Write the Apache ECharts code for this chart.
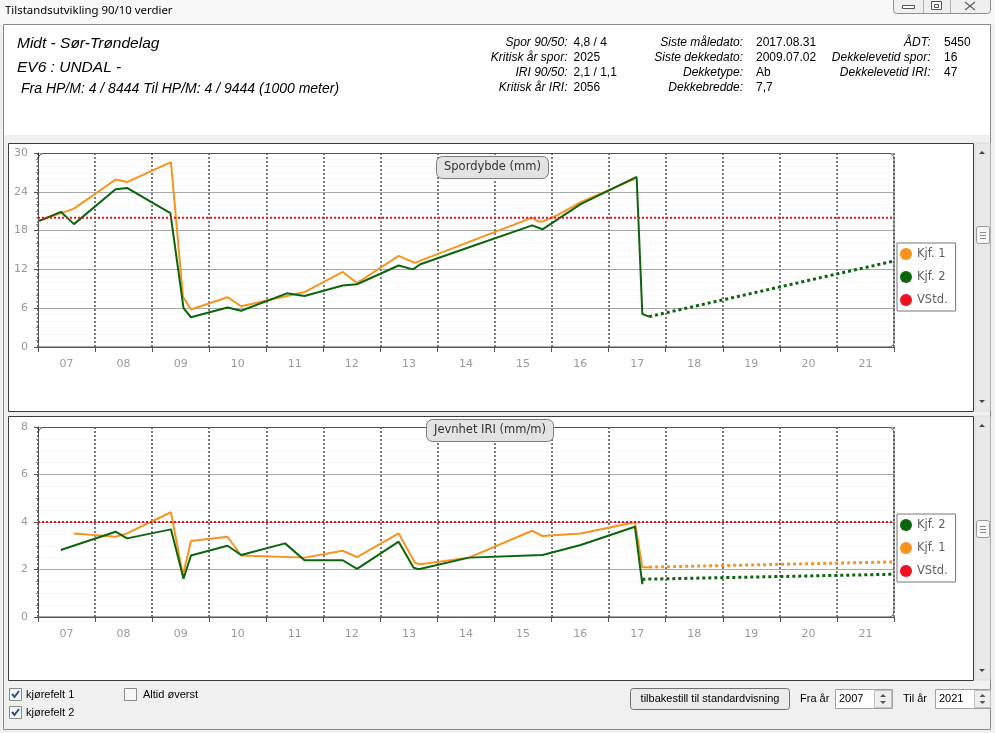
<!DOCTYPE html>
<html><head><meta charset="utf-8">
<script src="https://cdn.jsdelivr.net/npm/echarts@6/dist/echarts.min.js"></script>
<style>html,body{margin:0;padding:0;background:#f0f0f0;overflow:hidden}#c{width:995px;height:733px}</style>
</head><body><div id="c"></div>
<script>
// ---------- data ----------
const yearLabels = ['07','08','09','10','11','12','13','14','15','16','17','18','19','20','21'];
const legendTop = ['Kjf. 1','Kjf. 2','VStd.'];
const legendBottom = ['Kjf. 2','Kjf. 1','VStd.'];

// Spordybde (mm): [år, verdi]
const sporKjf1 = [[2007.02,19.5],[2007.63,21.4],[2008.36,25.9],[2008.56,25.5],[2009.33,28.6],[2009.54,7.8],[2009.68,5.8],[2010.32,7.7],[2010.56,6.3],[2011.36,7.9],[2011.67,8.5],[2012.34,11.6],[2012.59,9.9],[2013.32,14.1],[2013.60,13.0],[2015.66,20.0],[2015.76,19.4],[2015.84,19.4],[2016.10,20.4],[2016.54,22.5],[2017.46,26.0]];
const sporKjf2 = [[2007.02,19.5],[2007.40,20.9],[2007.63,19.0],[2008.36,24.4],[2008.56,24.6],[2009.32,20.7],[2009.55,6.0],[2009.68,4.6],[2010.32,6.1],[2010.56,5.6],[2011.36,8.3],[2011.67,7.9],[2012.34,9.5],[2012.59,9.7],[2013.32,12.6],[2013.57,12.0],[2013.70,12.8],[2014.58,15.5],[2015.66,18.8],[2015.84,18.2],[2016.51,22.1],[2017.49,26.3],[2017.59,5.1],[2017.71,4.7]];
const sporKjf2Prog = [[2017.71,4.7],[2022,13.3]];
const sporVStd = [[2007,20],[2022,20]];

// Jevnhet IRI (mm/m)
const iriKjf2 = [[2007.40,2.82],[2008.36,3.59],[2008.56,3.31],[2009.33,3.69],[2009.55,1.61],[2009.68,2.59],[2010.32,3.0],[2010.56,2.61],[2011.33,3.1],[2011.67,2.39],[2012.34,2.39],[2012.59,2.03],[2013.32,3.17],[2013.58,2.08],[2013.67,2.01],[2014.55,2.50],[2015.84,2.61],[2016.51,3.03],[2017.46,3.80],[2017.59,1.38],[2017.59,1.61]];
const iriKjf1 = [[2007.63,3.52],[2008.36,3.38],[2008.56,3.52],[2009.33,4.41],[2009.54,1.75],[2009.68,3.20],[2010.32,3.38],[2010.56,2.59],[2011.67,2.50],[2012.34,2.79],[2012.59,2.52],[2013.32,3.52],[2013.61,2.27],[2013.70,2.22],[2014.55,2.50],[2015.66,3.63],[2015.84,3.41],[2016.51,3.52],[2017.46,3.99],[2017.59,2.10],[2017.71,2.10]];
const iriKjf2Prog = [[2017.59,1.59],[2022,1.80]];
const iriKjf1Prog = [[2017.71,2.10],[2022,2.32]];
const iriVStd = [[2007,4],[2022,4]];

// ---------- styles ----------
const ORANGE = '#f7931e', GREEN = '#0c640c', RED = '#ee1122';
const AXFONT = 'DejaVu Sans';
const HFONT = '"Liberation Sans", Arial, sans-serif';

function valX(g){
  return {type:'value', gridIndex:g, min:2007, max:2022, interval:1, position:'bottom',
    axisLine:{show:true, lineStyle:{color:'#555'}},
    axisTick:{show:true, length:5, lineStyle:{color:'#555'}},
    axisLabel:{show:false},
    splitLine:{show:true, lineStyle:{color:'#7a7a7a', width:2, type:[2,2]}}};
}
function catX(g){
  return {type:'category', gridIndex:g, data:yearLabels, boundaryGap:true, position:'bottom',
    axisLine:{show:false}, axisTick:{show:false}, splitLine:{show:false},
    axisLabel:{color:'#9a9a9a', fontSize:11, fontFamily:AXFONT, margin:12}};
}
function valY(g, max, interval, minor){
  return {type:'value', gridIndex:g, min:0, max:max, interval:interval,
    axisLine:{show:true, lineStyle:{color:'#333'}},
    axisTick:{show:true, length:4, lineStyle:{color:'#555'}},
    minorTick:{show:true, splitNumber:minor, length:2, lineStyle:{color:'#888'}},
    axisLabel:{color:'#9a9a9a', fontSize:11, fontFamily:AXFONT, margin:10},
    splitLine:{show:true, lineStyle:{color:'#a8a8a8'}},
    minorSplitLine:{show:true, lineStyle:{color:'#f8f8f8'}}};
}
function line(name, data, xi, yi, color, opts){
  opts = opts || {};
  return {type:'line', name:name, data:data, xAxisIndex:xi, yAxisIndex:yi,
    symbol:'none', showSymbol:false, silent:true, color:color, itemStyle:{color:color},
    lineStyle:{color:color, width:opts.width||2, type:opts.type||'solid'}, z:opts.z||2};
}
function legend(data, top){
  return {data:data, left:897, top:top, orient:'vertical', icon:'circle', itemWidth:12, itemHeight:12,
    itemGap:11, padding:[5,8,5,3], backgroundColor:'#fff', borderColor:'#777', borderWidth:1,
    selectedMode:false, textStyle:{color:'#606060', fontSize:11.5, fontFamily:AXFONT, lineHeight:12}};
}
function titleBox(text, left, top){
  return {text:text, left:left, top:top, padding:[5,8,5,8], backgroundColor:'#e3e3e3',
    borderColor:'#7c7c7c', borderWidth:1, borderRadius:6,
    textStyle:{fontSize:11.5, fontWeight:'normal', color:'#333', fontFamily:AXFONT, lineHeight:13}};
}

// ---------- graphics (chrome) ----------
function txt(t, x, y, font, opts){
  opts = opts || {};
  return {type:'text', silent:true, z:opts.z||1, style:{text:t, x:x, y:y, font:font, fill:opts.fill||'#000',
    textAlign:opts.align||'left', textVerticalAlign:'middle'}};
}
function rect(x,y,w,h,style,z,r){
  return {type:'rect', silent:true, z:(z===undefined?-5:z), shape:{x:x,y:y,width:w,height:h,r:r||0}, style:style};
}
function checkbox(x,y,checked){
  const els = [rect(x+0.5,y+0.5,12,12,{fill:'#f6f6f6',stroke:'#8a8a8a',lineWidth:1},1)];
  if(checked) els.push({type:'polyline', silent:true, z:2, shape:{points:[[x+3,y+6],[x+5.5,y+9],[x+10,y+3]]}, style:{stroke:'#2e4f8f', lineWidth:2, fill:null}});
  return els;
}
function scrollbar(y,h,thumbY){
  return [
    rect(975,y,15,h,{fill:'#e9e9e9',stroke:'#dcdcdc'},-4),
    {type:'polygon', silent:true, z:1, shape:{points:[[979,y+11],[985,y+11],[982,y+8]]}, style:{fill:'#444'}},
    {type:'polygon', silent:true, z:1, shape:{points:[[979,y+h-11],[985,y+h-11],[982,y+h-8]]}, style:{fill:'#444'}},
    rect(976.5,thumbY+0.5,13,17,{fill:'#f6f6f6',stroke:'#9a9a9a'},1,2),
    {type:'line', silent:true, z:2, shape:{x1:980,y1:thumbY+6.5,x2:986,y2:thumbY+6.5}, style:{stroke:'#888'}},
    {type:'line', silent:true, z:2, shape:{x1:980,y1:thumbY+9.5,x2:986,y2:thumbY+9.5}, style:{stroke:'#888'}},
    {type:'line', silent:true, z:2, shape:{x1:980,y1:thumbY+12.5,x2:986,y2:thumbY+12.5}, style:{stroke:'#888'}}
  ];
}

const hdrL = 'italic 12px ' + HFONT, hdrV = '12px ' + HFONT;
const graphics = [
  rect(0,0,995,733,{fill:'#f0f0f0'},-10),
  rect(0,0,995,24,{fill:'#f8f8f8'},-9),
  txt('Tilstandsutvikling 90/10 verdier', 5, 11, '11.4px "Noto Sans", sans-serif'),
  // window buttons
  rect(893.5,-3.5,97,17,{fill:'#efefef',stroke:'#8e8e8e'},1,3),
  {type:'line', silent:true, z:2, shape:{x1:923.5,y1:0,x2:923.5,y2:13}, style:{stroke:'#b0b0b0'}},
  {type:'line', silent:true, z:2, shape:{x1:950.5,y1:0,x2:950.5,y2:13}, style:{stroke:'#b0b0b0'}},
  rect(902.5,5.5,12,3,{fill:'#fff',stroke:'#555'},2),
  rect(931.5,1.5,10,8,{fill:'#fff',stroke:'#555'},2),
  rect(934.5,4.5,4,3,{fill:'#fff',stroke:'#555'},2),
  {type:'line', silent:true, z:2, shape:{x1:965,y1:2,x2:975,y2:10}, style:{stroke:'#666',lineWidth:1.5}},
  {type:'line', silent:true, z:2, shape:{x1:975,y1:2,x2:965,y2:10}, style:{stroke:'#666',lineWidth:1.5}},
  // frame & header
  rect(3.5,24.5,987,705,{fill:'#f0f0f0',stroke:'#8a8a8a'},-8),
  rect(4,25,986,110,{fill:'#ffffff'},-7),
  txt('Midt - Sør-Trøndelag', 17, 44, 'italic 15.5px ' + HFONT),
  txt('EV6 : UNDAL -', 17, 68, 'italic 15.5px ' + HFONT),
  txt('Fra HP/M: 4 / 8444 Til HP/M: 4 / 9444 (1000 meter)', 21, 89, 'italic 14px ' + HFONT),
  txt('Spor 90/50:', 567.5, 42.5, hdrL, {align:'right'}),
  txt('Kritisk år spor:', 567.5, 57.5, hdrL, {align:'right'}),
  txt('IRI 90/50:', 567.5, 72.5, hdrL, {align:'right'}),
  txt('Kritisk år IRI:', 567.5, 87.5, hdrL, {align:'right'}),
  txt('4,8 / 4', 573.5, 42.5, hdrV), txt('2025', 573.5, 57.5, hdrV), txt('2,1 / 1,1', 573.5, 72.5, hdrV), txt('2056', 573.5, 87.5, hdrV),
  txt('Siste måledato:', 743, 42.5, hdrL, {align:'right'}),
  txt('Siste dekkedato:', 743, 57.5, hdrL, {align:'right'}),
  txt('Dekketype:', 743, 72.5, hdrL, {align:'right'}),
  txt('Dekkebredde:', 743, 87.5, hdrL, {align:'right'}),
  txt('2017.08.31', 756, 42.5, hdrV), txt('2009.07.02', 756, 57.5, hdrV), txt('Ab', 756, 72.5, hdrV), txt('7,7', 756, 87.5, hdrV),
  txt('ÅDT:', 930.5, 42.5, hdrL, {align:'right'}),
  txt('Dekkelevetid spor:', 930.5, 57.5, hdrL, {align:'right'}),
  txt('Dekkelevetid IRI:', 930.5, 72.5, hdrL, {align:'right'}),
  txt('5450', 944, 42.5, hdrV), txt('16', 944, 57.5, hdrV), txt('47', 944, 72.5, hdrV),
  // chart panels
  rect(8.5,143.5,965,268,{fill:'#ffffff',stroke:'#3c3c3c'},-6),
  rect(8.5,416.5,965,264,{fill:'#ffffff',stroke:'#3c3c3c'},-6),
  // plot borders (rounded)
  rect(38.5,153.5,855.5,193.5,{fill:null,stroke:'#555'},3,[5,5,5,0]),
  rect(38.5,427.5,855.5,189.5,{fill:null,stroke:'#555'},3,[5,5,5,0]),
  // bottom controls
  txt('kjørefelt 1', 26, 695, '11px ' + HFONT),
  txt('kjørefelt 2', 26, 713, '11px ' + HFONT),
  txt('Altid øverst', 143, 695, '11px ' + HFONT),
  rect(630.5,688.5,159,21,{fill:'#ececec',stroke:'#707070'},1,3),
  txt('tilbakestill til standardvisning', 710, 699, '11px ' + HFONT, {align:'center', z:2}),
  txt('Fra år', 800, 699, '11px ' + HFONT),
  rect(835.5,689.5,57,19,{fill:'#fff',stroke:'#a0a0a0'},1),
  txt('2007', 839, 699, '11px ' + HFONT, {z:2}),
  rect(874.5,690.5,17,17,{fill:'#eeeeee',stroke:'#c0c0c0'},2),
  {type:'polygon', silent:true, z:3, shape:{points:[[880,697],[886,697],[883,694]]}, style:{fill:'#555'}},
  {type:'polygon', silent:true, z:3, shape:{points:[[880,701],[886,701],[883,704]]}, style:{fill:'#555'}},
  txt('Til år', 903, 699, '11px ' + HFONT),
  rect(935.5,689.5,55,19,{fill:'#fff',stroke:'#a0a0a0'},1),
  txt('2021', 939, 699, '11px ' + HFONT, {z:2}),
  rect(974.5,690.5,16,17,{fill:'#eeeeee',stroke:'#c0c0c0'},2),
  {type:'polygon', silent:true, z:3, shape:{points:[[979.5,697],[985.5,697],[982.5,694]]}, style:{fill:'#555'}},
  {type:'polygon', silent:true, z:3, shape:{points:[[979.5,701],[985.5,701],[982.5,704]]}, style:{fill:'#555'}}
].concat(checkbox(9,688,true), checkbox(9,706,true), checkbox(124,688,false),
         scrollbar(143,268,226), scrollbar(416,264,520));

const option = {
  animation:false,
  backgroundColor:'#f0f0f0',
  title:[titleBox('Spordybde (mm)', 436, 156), titleBox('Jevnhet IRI (mm/m)', 426, 419)],
  legend:[legend(legendTop, 243), legend(legendBottom, 514)],
  grid:[
    {left:38, top:153, width:856, height:194, containLabel:false},
    {left:38, top:427, width:856, height:190, containLabel:false}
  ],
  xAxis:[valX(0), catX(0), valX(1), catX(1)],
  yAxis:[valY(0,30,6,6), valY(1,8,2,4)],
  graphic:graphics,
  series:[
    line('Kjf. 1', sporKjf1, 0, 0, ORANGE),
    line('Kjf. 2', sporKjf2, 0, 0, GREEN),
    line('Kjf. 2 prognose', sporKjf2Prog, 0, 0, GREEN, {type:'dotted', width:3}),
    line('VStd.', sporVStd, 0, 0, RED, {type:[2,2], width:2, z:3}),
    line('Kjf. 1', iriKjf1, 2, 1, ORANGE),
    line('Kjf. 1 prognose', iriKjf1Prog, 2, 1, ORANGE, {type:'dotted', width:3}),
    line('Kjf. 2', iriKjf2, 2, 1, GREEN),
    line('Kjf. 2 prognose ', iriKjf2Prog, 2, 1, GREEN, {type:'dotted', width:3}),
    line('VStd.', iriVStd, 2, 1, RED, {type:[2,2], width:2, z:3})
  ]
};
const chart = echarts.init(document.getElementById('c'));
chart.setOption(option);
</script>
</body></html>
